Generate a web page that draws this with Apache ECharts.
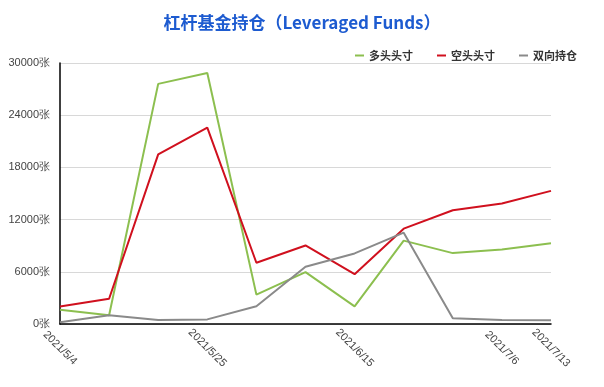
<!DOCTYPE html>
<html><head><meta charset="utf-8">
<script src="https://cdn.jsdelivr.net/npm/echarts@6/dist/echarts.min.js"></script>
<style>html,body{margin:0;padding:0;background:#fff}#c{width:604px;height:387px}</style>
</head><body><div id="c"></div>
<script>
const categories = ['2021/5/4','2021/5/11','2021/5/18','2021/5/25','2021/6/1','2021/6/8','2021/6/15','2021/6/22','2021/6/29','2021/7/6','2021/7/13'];
const longPos  = [1650, 1000, 27600, 28850, 3380, 5960, 2030, 9580, 8150, 8570, 9270];
const shortPos = [2000, 2900, 19500, 22570, 7040, 9030, 5720, 10960, 13070, 13840, 15300];
const spreadPos = [200, 1000, 460, 530, 2030, 6580, 8110, 10500, 650, 460, 420];
const yTicks = [0, 6000, 12000, 18000, 24000, 30000];
const names = ['多头头寸','空头头寸','双向持仓'];
const colors = ['#8cbf4f','#d0101e','#8a8a8a'];
const shownLabels = [0, 3, 6, 9, 10];

const chart = echarts.init(document.getElementById('c'));
chart.setOption({
  animation: false,
  title: {
    text: '杠杆基金持仓（Leveraged Funds）',
    left: 'center', top: 9,
    textStyle: {color: '#1d5bd0', fontSize: 17, fontWeight: 'bold', fontFamily: 'Noto Sans CJK SC'}
  },
  legend: {
    right: 22, top: 45,
    icon: 'rect', itemWidth: 9, itemHeight: 2, itemGap: 24,
    textStyle: {fontSize: 11, color: '#333', fontWeight: 'bold', fontFamily: 'Noto Sans CJK SC'},
    data: names
  },
  grid: {left: 60, right: 53, top: 63, bottom: 63, containLabel: false},
  xAxis: {
    type: 'category', data: categories, boundaryGap: false,
    axisLine: {lineStyle: {color: '#000', width: 1.5}},
    axisTick: {show: false},
    axisLabel: {
      interval: 0,
      formatter: (v, i) => shownLabels.includes(i) ? v : '',
      rotate: -45, align: 'center', verticalAlign: 'middle', margin: 24,
      color: '#444', fontSize: 11, fontFamily: 'Liberation Sans'
    }
  },
  yAxis: {
    type: 'value', min: yTicks[0], max: yTicks[yTicks.length-1], interval: 6000,
    axisLine: {show: true, lineStyle: {color: '#000', width: 1.5}},
    axisTick: {show: false},
    splitLine: {lineStyle: {color: '#d8d8d8'}},
    axisLabel: {formatter: v => v + '张', color: '#444', fontSize: 11, margin: 10, fontFamily: 'Liberation Sans'}
  },
  series: [
    {name: names[0], type: 'line', data: longPos, symbol: 'none', lineStyle: {width: 2, color: colors[0]}, itemStyle: {color: colors[0]}},
    {name: names[1], type: 'line', data: shortPos, symbol: 'none', lineStyle: {width: 2, color: colors[1]}, itemStyle: {color: colors[1]}},
    {name: names[2], type: 'line', data: spreadPos, symbol: 'none', lineStyle: {width: 2, color: colors[2]}, itemStyle: {color: colors[2]}}
  ]
});
</script></body></html>
